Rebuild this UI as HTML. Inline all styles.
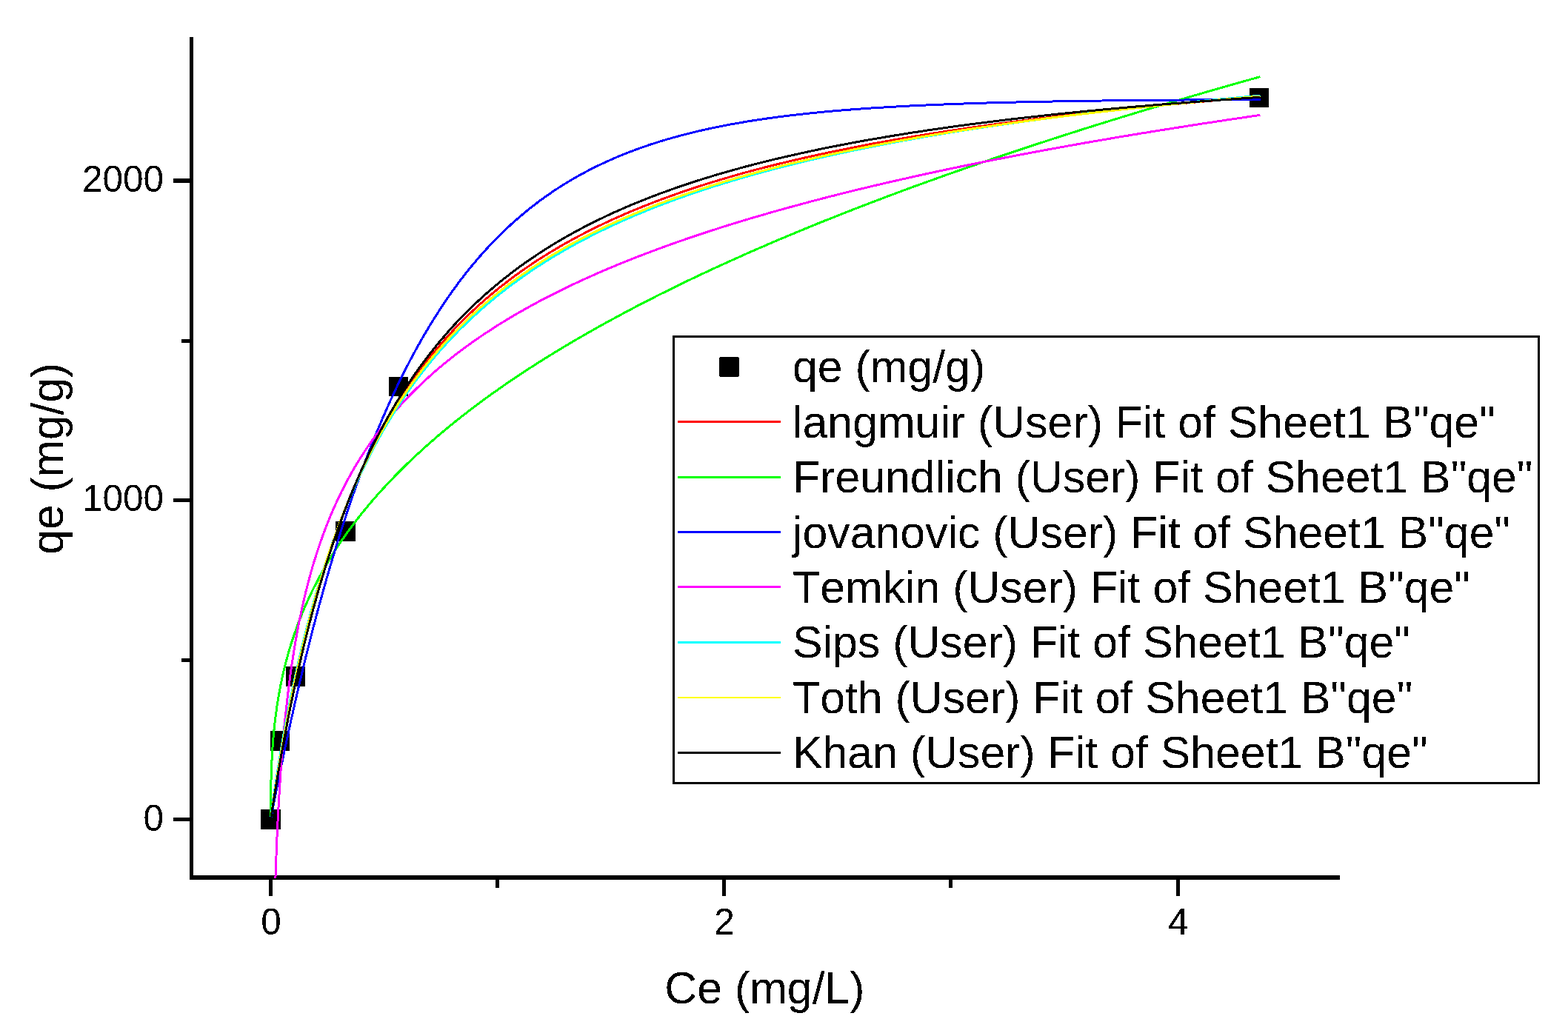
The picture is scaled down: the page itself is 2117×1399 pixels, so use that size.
<!DOCTYPE html>
<html lang="en"><head><meta charset="utf-8"><title>Adsorption isotherm fits</title>
<style>html,body{margin:0;padding:0;background:#fff;}body{width:2117px;height:1399px;overflow:hidden;}svg{display:block;}text{font-family:"Liberation Sans",Arial,sans-serif;fill:#000;font-kerning:none;font-variant-ligatures:none;}</style></head><body>
<svg width="2117" height="1399" viewBox="0 0 2117 1399">
<rect x="0" y="0" width="2117" height="1399" fill="#ffffff"/>
<defs><clipPath id="plot"><rect x="256" y="40" width="1560" height="1146"/></clipPath>
<filter id="bw" filterUnits="userSpaceOnUse" x="0" y="0" width="2117" height="1399" color-interpolation-filters="sRGB"><feComponentTransfer><feFuncA type="discrete" tableValues="0 1"/></feComponentTransfer></filter>
</defs>
<g fill="#000" shape-rendering="crispEdges">
<rect x="256" y="50" width="5" height="1138"/>
<rect x="256" y="1182" width="1553" height="6"/>
<rect x="234" y="241" width="22" height="6"/>
<rect x="245" y="458" width="11" height="5"/>
<rect x="234" y="673" width="22" height="5"/>
<rect x="245" y="889" width="11" height="5"/>
<rect x="234" y="1104" width="22" height="5"/>
<rect x="363" y="1188" width="5" height="22"/>
<rect x="669" y="1188" width="5" height="11"/>
<rect x="975" y="1188" width="5" height="22"/>
<rect x="1281" y="1188" width="5" height="11"/>
<rect x="1588" y="1188" width="5" height="22"/>
</g>
<g fill="#000" shape-rendering="crispEdges">
<rect x="352" y="1093" width="27" height="27"/>
<rect x="365" y="987" width="26" height="27"/>
<rect x="386" y="900" width="26" height="27"/>
<rect x="453" y="704" width="27" height="27"/>
<rect x="525" y="509" width="26" height="26"/>
<rect x="1687" y="119" width="26" height="26"/>
</g>
<g fill="none" stroke-width="3" stroke-linejoin="round" clip-path="url(#plot)" shape-rendering="crispEdges">
<polyline stroke="#ff0000" points="365.5,1106.5 365.9,1103.9 366.3,1101.2 366.7,1098.6 367.1,1096.0 367.5,1093.4 367.9,1090.8 368.2,1088.2 368.6,1085.7 369.0,1083.1 369.4,1080.6 369.8,1078.1 370.2,1075.6 370.6,1073.1 371.0,1070.6 371.4,1068.1 371.8,1065.6 372.2,1063.2 372.6,1060.7 373.0,1058.3 373.3,1055.9 373.7,1053.5 374.1,1051.1 374.5,1048.7 374.9,1046.3 375.3,1043.9 375.7,1041.6 376.1,1039.2 376.5,1036.9 376.9,1034.6 377.3,1032.3 377.7,1030.0 378.1,1027.7 378.5,1025.4 378.8,1023.1 379.2,1020.9 379.6,1018.6 380.0,1016.4 380.4,1014.2 380.8,1011.9 382.2,1004.0 383.6,996.2 385.0,988.5 386.5,981.0 387.9,973.5 389.3,966.2 390.7,959.0 392.1,951.9 393.5,944.9 395.0,938.0 396.4,931.2 397.8,924.5 399.2,917.9 400.6,911.4 402.0,905.0 403.4,898.7 404.9,892.4 406.3,886.3 407.7,880.2 409.1,874.2 410.5,868.3 411.9,862.5 413.3,856.8 414.8,851.1 416.2,845.5 417.6,840.0 419.0,834.6 420.4,829.2 421.8,823.9 423.2,818.7 424.7,813.5 426.1,808.4 427.5,803.4 428.9,798.4 430.3,793.5 431.7,788.7 433.2,783.9 434.6,779.2 436.0,774.5 437.4,769.9 438.8,765.3 440.2,760.8 441.6,756.4 443.1,752.0 444.5,747.6 445.9,743.3 447.3,739.1 448.7,734.9 450.1,730.8 451.5,726.7 453.0,722.6 454.4,718.6 455.8,714.6 457.2,710.7 458.6,706.8 460.0,703.0 461.4,699.2 462.9,695.5 464.3,691.8 465.7,688.1 467.1,684.5 468.5,680.9 469.9,677.3 471.3,673.8 472.8,670.3 474.2,666.9 475.6,663.5 477.0,660.1 478.4,656.8 479.8,653.5 481.3,650.2 482.7,647.0 484.1,643.8 485.5,640.6 486.9,637.5 488.3,634.4 489.7,631.3 491.2,628.2 492.6,625.2 494.0,622.2 495.4,619.3 496.8,616.3 498.2,613.4 499.6,610.6 501.1,607.7 502.5,604.9 503.9,602.1 505.3,599.3 506.7,596.6 508.1,593.9 509.5,591.2 511.0,588.5 512.4,585.9 513.8,583.3 515.2,580.7 516.6,578.1 518.0,575.6 519.5,573.0 520.9,570.5 522.3,568.1 523.7,565.6 525.1,563.2 526.5,560.8 527.9,558.4 529.4,556.0 530.8,553.7 532.2,551.3 533.6,549.0 535.0,546.7 536.4,544.4 537.8,542.2 539.3,540.0 540.7,537.7 542.1,535.6 543.5,533.4 544.9,531.2 546.3,529.1 547.7,526.9 549.2,524.8 553.6,518.3 558.1,512.0 562.5,505.8 567.0,499.7 571.4,493.8 575.9,488.1 580.3,482.5 584.8,477.0 589.2,471.6 593.7,466.4 598.1,461.3 602.6,456.3 607.0,451.4 611.4,446.6 615.9,441.9 620.3,437.3 624.8,432.8 629.2,428.4 633.7,424.1 638.1,419.9 642.6,415.8 647.0,411.7 651.5,407.8 655.9,403.9 660.4,400.1 664.8,396.3 669.3,392.6 673.7,389.0 678.2,385.5 682.6,382.1 687.1,378.6 691.5,375.3 696.0,372.0 700.4,368.8 704.9,365.6 709.3,362.5 713.8,359.5 718.2,356.5 722.7,353.5 727.1,350.6 731.6,347.8 736.0,345.0 740.5,342.2 744.9,339.5 749.4,336.9 753.8,334.2 758.3,331.6 762.7,329.1 767.2,326.6 771.6,324.1 776.1,321.7 780.5,319.3 785.0,317.0 789.4,314.7 793.9,312.4 798.3,310.2 802.8,307.9 807.2,305.8 811.7,303.6 816.1,301.5 820.6,299.4 825.0,297.4 829.5,295.3 833.9,293.3 838.4,291.4 842.8,289.4 847.3,287.5 851.7,285.6 856.2,283.8 860.6,281.9 865.1,280.1 869.5,278.3 874.0,276.6 878.4,274.8 882.8,273.1 887.3,271.4 891.7,269.7 896.2,268.1 900.6,266.5 905.1,264.8 909.5,263.3 914.0,261.7 918.4,260.1 922.9,258.6 927.3,257.1 931.8,255.6 936.2,254.1 940.7,252.7 945.1,251.2 949.6,249.8 954.0,248.4 958.5,247.0 962.9,245.6 967.4,244.3 971.8,242.9 976.3,241.6 980.7,240.3 985.2,239.0 989.6,237.7 994.1,236.4 998.5,235.2 1003.0,233.9 1007.4,232.7 1011.9,231.5 1016.3,230.3 1020.8,229.1 1025.2,227.9 1029.7,226.8 1034.1,225.6 1038.6,224.5 1043.0,223.4 1047.5,222.3 1051.9,221.2 1056.4,220.1 1060.8,219.0 1065.3,217.9 1069.7,216.9 1074.2,215.8 1078.6,214.8 1083.1,213.8 1087.5,212.8 1092.0,211.8 1096.4,210.8 1100.9,209.8 1105.3,208.8 1109.8,207.8 1114.2,206.9 1118.7,205.9 1123.1,205.0 1127.6,204.1 1132.0,203.2 1136.5,202.3 1140.9,201.4 1145.4,200.5 1149.8,199.6 1154.2,198.7 1158.7,197.8 1163.1,197.0 1167.6,196.1 1172.0,195.3 1176.5,194.4 1180.9,193.6 1185.4,192.8 1189.8,192.0 1194.3,191.2 1198.7,190.4 1203.2,189.6 1207.6,188.8 1212.1,188.0 1216.5,187.3 1221.0,186.5 1225.4,185.7 1229.9,185.0 1234.3,184.2 1238.8,183.5 1243.2,182.8 1247.7,182.0 1252.1,181.3 1256.6,180.6 1261.0,179.9 1265.5,179.2 1269.9,178.5 1274.4,177.8 1278.8,177.1 1283.3,176.5 1287.7,175.8 1292.2,175.1 1296.6,174.5 1301.1,173.8 1305.5,173.1 1310.0,172.5 1314.4,171.9 1318.9,171.2 1323.3,170.6 1327.8,170.0 1332.2,169.3 1336.7,168.7 1341.1,168.1 1345.6,167.5 1350.0,166.9 1354.5,166.3 1358.9,165.7 1363.4,165.1 1367.8,164.5 1372.3,164.0 1376.7,163.4 1381.2,162.8 1385.6,162.3 1390.1,161.7 1394.5,161.1 1399.0,160.6 1403.4,160.0 1407.9,159.5 1412.3,159.0 1416.8,158.4 1421.2,157.9 1425.7,157.4 1430.1,156.8 1434.5,156.3 1439.0,155.8 1443.4,155.3 1447.9,154.8 1452.3,154.3 1456.8,153.8 1461.2,153.3 1465.7,152.8 1470.1,152.3 1474.6,151.8 1479.0,151.3 1483.5,150.8 1487.9,150.3 1492.4,149.9 1496.8,149.4 1501.3,148.9 1505.7,148.4 1510.2,148.0 1514.6,147.5 1519.1,147.1 1523.5,146.6 1528.0,146.2 1532.4,145.7 1536.9,145.3 1541.3,144.8 1545.8,144.4 1550.2,144.0 1554.7,143.5 1559.1,143.1 1563.6,142.7 1568.0,142.2 1572.5,141.8 1576.9,141.4 1581.4,141.0 1585.8,140.6 1590.3,140.2 1594.7,139.8 1599.2,139.3 1603.6,138.9 1608.1,138.5 1612.5,138.1 1617.0,137.7 1621.4,137.4 1625.9,137.0 1630.3,136.6 1634.8,136.2 1639.2,135.8 1643.7,135.4 1648.1,135.0 1652.6,134.7 1657.0,134.3 1661.5,133.9 1665.9,133.6 1670.4,133.2 1674.8,132.8 1679.3,132.5 1683.7,132.1 1688.2,131.7 1692.6,131.4 1697.1,131.0 1701.5,130.7"/>
<polyline stroke="#00ff00" points="365.5,1106.5 365.9,1057.7 366.3,1043.4 366.7,1033.1 367.1,1024.9 367.5,1017.8 367.9,1011.6 368.2,1006.0 368.6,1000.9 369.0,996.1 369.4,991.7 369.8,987.6 370.2,983.7 370.6,980.0 371.0,976.4 371.4,973.0 371.8,969.8 372.2,966.7 372.6,963.7 373.0,960.8 373.3,958.0 373.7,955.3 374.1,952.6 374.5,950.1 374.9,947.6 375.3,945.1 375.7,942.8 376.1,940.5 376.5,938.2 376.9,936.0 377.3,933.8 377.7,931.7 378.1,929.6 378.5,927.6 378.8,925.6 379.2,923.6 379.6,921.7 380.0,919.8 380.4,918.0 380.8,916.1 382.2,909.8 383.6,903.7 385.0,898.0 386.5,892.5 387.9,887.2 389.3,882.2 390.7,877.3 392.1,872.6 393.5,868.1 395.0,863.7 396.4,859.4 397.8,855.2 399.2,851.2 400.6,847.3 402.0,843.4 403.4,839.7 404.9,836.0 406.3,832.5 407.7,829.0 409.1,825.5 410.5,822.2 411.9,818.9 413.3,815.7 414.8,812.5 416.2,809.4 417.6,806.3 419.0,803.3 420.4,800.4 421.8,797.5 423.2,794.6 424.7,791.8 426.1,789.0 427.5,786.3 428.9,783.6 430.3,780.9 431.7,778.3 433.2,775.7 434.6,773.1 436.0,770.6 437.4,768.1 438.8,765.7 440.2,763.2 441.6,760.8 443.1,758.4 444.5,756.1 445.9,753.8 447.3,751.5 448.7,749.2 450.1,747.0 451.5,744.7 453.0,742.5 454.4,740.4 455.8,738.2 457.2,736.1 458.6,734.0 460.0,731.9 461.4,729.8 462.9,727.7 464.3,725.7 465.7,723.7 467.1,721.7 468.5,719.7 469.9,717.7 471.3,715.8 472.8,713.8 474.2,711.9 475.6,710.0 477.0,708.1 478.4,706.3 479.8,704.4 481.3,702.6 482.7,700.7 484.1,698.9 485.5,697.1 486.9,695.3 488.3,693.6 489.7,691.8 491.2,690.0 492.6,688.3 494.0,686.6 495.4,684.9 496.8,683.2 498.2,681.5 499.6,679.8 501.1,678.1 502.5,676.5 503.9,674.8 505.3,673.2 506.7,671.6 508.1,670.0 509.5,668.3 511.0,666.8 512.4,665.2 513.8,663.6 515.2,662.0 516.6,660.5 518.0,658.9 519.5,657.4 520.9,655.9 522.3,654.3 523.7,652.8 525.1,651.3 526.5,649.8 527.9,648.3 529.4,646.9 530.8,645.4 532.2,643.9 533.6,642.5 535.0,641.0 536.4,639.6 537.8,638.1 539.3,636.7 540.7,635.3 542.1,633.9 543.5,632.5 544.9,631.1 546.3,629.7 547.7,628.3 549.2,626.9 553.6,622.6 558.1,618.4 562.5,614.3 567.0,610.2 571.4,606.1 575.9,602.1 580.3,598.2 584.8,594.3 589.2,590.4 593.7,586.6 598.1,582.9 602.6,579.2 607.0,575.5 611.4,571.9 615.9,568.3 620.3,564.8 624.8,561.3 629.2,557.9 633.7,554.4 638.1,551.0 642.6,547.7 647.0,544.4 651.5,541.1 655.9,537.8 660.4,534.6 664.8,531.4 669.3,528.3 673.7,525.1 678.2,522.0 682.6,518.9 687.1,515.9 691.5,512.9 696.0,509.9 700.4,506.9 704.9,503.9 709.3,501.0 713.8,498.1 718.2,495.2 722.7,492.4 727.1,489.5 731.6,486.7 736.0,483.9 740.5,481.2 744.9,478.4 749.4,475.7 753.8,473.0 758.3,470.3 762.7,467.6 767.2,465.0 771.6,462.3 776.1,459.7 780.5,457.1 785.0,454.6 789.4,452.0 793.9,449.4 798.3,446.9 802.8,444.4 807.2,441.9 811.7,439.4 816.1,437.0 820.6,434.5 825.0,432.1 829.5,429.7 833.9,427.2 838.4,424.9 842.8,422.5 847.3,420.1 851.7,417.8 856.2,415.4 860.6,413.1 865.1,410.8 869.5,408.5 874.0,406.2 878.4,403.9 882.8,401.7 887.3,399.4 891.7,397.2 896.2,395.0 900.6,392.8 905.1,390.6 909.5,388.4 914.0,386.2 918.4,384.0 922.9,381.9 927.3,379.7 931.8,377.6 936.2,375.5 940.7,373.4 945.1,371.2 949.6,369.2 954.0,367.1 958.5,365.0 962.9,362.9 967.4,360.9 971.8,358.8 976.3,356.8 980.7,354.8 985.2,352.8 989.6,350.8 994.1,348.8 998.5,346.8 1003.0,344.8 1007.4,342.8 1011.9,340.8 1016.3,338.9 1020.8,336.9 1025.2,335.0 1029.7,333.1 1034.1,331.2 1038.6,329.2 1043.0,327.3 1047.5,325.4 1051.9,323.5 1056.4,321.7 1060.8,319.8 1065.3,317.9 1069.7,316.1 1074.2,314.2 1078.6,312.4 1083.1,310.5 1087.5,308.7 1092.0,306.9 1096.4,305.0 1100.9,303.2 1105.3,301.4 1109.8,299.6 1114.2,297.8 1118.7,296.1 1123.1,294.3 1127.6,292.5 1132.0,290.8 1136.5,289.0 1140.9,287.2 1145.4,285.5 1149.8,283.8 1154.2,282.0 1158.7,280.3 1163.1,278.6 1167.6,276.9 1172.0,275.2 1176.5,273.5 1180.9,271.8 1185.4,270.1 1189.8,268.4 1194.3,266.7 1198.7,265.0 1203.2,263.4 1207.6,261.7 1212.1,260.0 1216.5,258.4 1221.0,256.7 1225.4,255.1 1229.9,253.5 1234.3,251.8 1238.8,250.2 1243.2,248.6 1247.7,247.0 1252.1,245.4 1256.6,243.8 1261.0,242.2 1265.5,240.6 1269.9,239.0 1274.4,237.4 1278.8,235.8 1283.3,234.3 1287.7,232.7 1292.2,231.1 1296.6,229.6 1301.1,228.0 1305.5,226.4 1310.0,224.9 1314.4,223.4 1318.9,221.8 1323.3,220.3 1327.8,218.8 1332.2,217.2 1336.7,215.7 1341.1,214.2 1345.6,212.7 1350.0,211.2 1354.5,209.7 1358.9,208.2 1363.4,206.7 1367.8,205.2 1372.3,203.7 1376.7,202.2 1381.2,200.8 1385.6,199.3 1390.1,197.8 1394.5,196.4 1399.0,194.9 1403.4,193.4 1407.9,192.0 1412.3,190.5 1416.8,189.1 1421.2,187.6 1425.7,186.2 1430.1,184.8 1434.5,183.3 1439.0,181.9 1443.4,180.5 1447.9,179.1 1452.3,177.7 1456.8,176.2 1461.2,174.8 1465.7,173.4 1470.1,172.0 1474.6,170.6 1479.0,169.2 1483.5,167.8 1487.9,166.5 1492.4,165.1 1496.8,163.7 1501.3,162.3 1505.7,160.9 1510.2,159.6 1514.6,158.2 1519.1,156.8 1523.5,155.5 1528.0,154.1 1532.4,152.8 1536.9,151.4 1541.3,150.1 1545.8,148.7 1550.2,147.4 1554.7,146.1 1559.1,144.7 1563.6,143.4 1568.0,142.1 1572.5,140.7 1576.9,139.4 1581.4,138.1 1585.8,136.8 1590.3,135.5 1594.7,134.2 1599.2,132.9 1603.6,131.5 1608.1,130.2 1612.5,128.9 1617.0,127.7 1621.4,126.4 1625.9,125.1 1630.3,123.8 1634.8,122.5 1639.2,121.2 1643.7,119.9 1648.1,118.7 1652.6,117.4 1657.0,116.1 1661.5,114.9 1665.9,113.6 1670.4,112.3 1674.8,111.1 1679.3,109.8 1683.7,108.6 1688.2,107.3 1692.6,106.1 1697.1,104.8 1701.5,103.6"/>
<polyline stroke="#0000ff" points="365.5,1106.5 365.9,1104.4 366.3,1102.4 366.7,1100.4 367.1,1098.3 367.5,1096.3 367.9,1094.2 368.2,1092.2 368.6,1090.2 369.0,1088.2 369.4,1086.2 369.8,1084.1 370.2,1082.1 370.6,1080.1 371.0,1078.1 371.4,1076.1 371.8,1074.1 372.2,1072.2 372.6,1070.2 373.0,1068.2 373.3,1066.2 373.7,1064.3 374.1,1062.3 374.5,1060.3 374.9,1058.4 375.3,1056.4 375.7,1054.5 376.1,1052.5 376.5,1050.6 376.9,1048.7 377.3,1046.7 377.7,1044.8 378.1,1042.9 378.5,1041.0 378.8,1039.0 379.2,1037.1 379.6,1035.2 380.0,1033.3 380.4,1031.4 380.8,1029.5 382.2,1022.7 383.6,1016.0 385.0,1009.3 386.5,1002.6 387.9,996.0 389.3,989.5 390.7,983.0 392.1,976.5 393.5,970.1 395.0,963.8 396.4,957.5 397.8,951.2 399.2,945.0 400.6,938.9 402.0,932.8 403.4,926.7 404.9,920.7 406.3,914.7 407.7,908.8 409.1,902.9 410.5,897.0 411.9,891.3 413.3,885.5 414.8,879.8 416.2,874.1 417.6,868.5 419.0,862.9 420.4,857.4 421.8,851.9 423.2,846.4 424.7,841.0 426.1,835.7 427.5,830.3 428.9,825.1 430.3,819.8 431.7,814.6 433.2,809.4 434.6,804.3 436.0,799.2 437.4,794.2 438.8,789.1 440.2,784.2 441.6,779.2 443.1,774.3 444.5,769.5 445.9,764.6 447.3,759.8 448.7,755.1 450.1,750.4 451.5,745.7 453.0,741.0 454.4,736.4 455.8,731.9 457.2,727.3 458.6,722.8 460.0,718.3 461.4,713.9 462.9,709.5 464.3,705.1 465.7,700.8 467.1,696.5 468.5,692.2 469.9,688.0 471.3,683.8 472.8,679.6 474.2,675.4 475.6,671.3 477.0,667.3 478.4,663.2 479.8,659.2 481.3,655.2 482.7,651.2 484.1,647.3 485.5,643.4 486.9,639.5 488.3,635.7 489.7,631.9 491.2,628.1 492.6,624.4 494.0,620.6 495.4,616.9 496.8,613.3 498.2,609.6 499.6,606.0 501.1,602.4 502.5,598.9 503.9,595.3 505.3,591.8 506.7,588.4 508.1,584.9 509.5,581.5 511.0,578.1 512.4,574.7 513.8,571.4 515.2,568.0 516.6,564.7 518.0,561.5 519.5,558.2 520.9,555.0 522.3,551.8 523.7,548.6 525.1,545.5 526.5,542.3 527.9,539.2 529.4,536.2 530.8,533.1 532.2,530.1 533.6,527.1 535.0,524.1 536.4,521.1 537.8,518.2 539.3,515.3 540.7,512.4 542.1,509.5 543.5,506.6 544.9,503.8 546.3,501.0 547.7,498.2 549.2,495.4 553.6,486.9 558.1,478.5 562.5,470.3 567.0,462.4 571.4,454.6 575.9,447.0 580.3,439.6 584.8,432.3 589.2,425.3 593.7,418.4 598.1,411.6 602.6,405.0 607.0,398.6 611.4,392.3 615.9,386.2 620.3,380.2 624.8,374.4 629.2,368.7 633.7,363.1 638.1,357.7 642.6,352.4 647.0,347.2 651.5,342.2 655.9,337.2 660.4,332.4 664.8,327.7 669.3,323.1 673.7,318.6 678.2,314.2 682.6,310.0 687.1,305.8 691.5,301.7 696.0,297.7 700.4,293.9 704.9,290.1 709.3,286.4 713.8,282.7 718.2,279.2 722.7,275.8 727.1,272.4 731.6,269.1 736.0,265.9 740.5,262.8 744.9,259.7 749.4,256.7 753.8,253.8 758.3,251.0 762.7,248.2 767.2,245.5 771.6,242.8 776.1,240.3 780.5,237.7 785.0,235.3 789.4,232.9 793.9,230.5 798.3,228.2 802.8,226.0 807.2,223.8 811.7,221.7 816.1,219.6 820.6,217.6 825.0,215.6 829.5,213.6 833.9,211.7 838.4,209.9 842.8,208.1 847.3,206.3 851.7,204.6 856.2,202.9 860.6,201.3 865.1,199.7 869.5,198.1 874.0,196.6 878.4,195.1 882.8,193.7 887.3,192.2 891.7,190.8 896.2,189.5 900.6,188.2 905.1,186.9 909.5,185.6 914.0,184.4 918.4,183.2 922.9,182.0 927.3,180.9 931.8,179.8 936.2,178.7 940.7,177.6 945.1,176.6 949.6,175.5 954.0,174.6 958.5,173.6 962.9,172.6 967.4,171.7 971.8,170.8 976.3,169.9 980.7,169.1 985.2,168.2 989.6,167.4 994.1,166.6 998.5,165.9 1003.0,165.1 1007.4,164.3 1011.9,163.6 1016.3,162.9 1020.8,162.2 1025.2,161.5 1029.7,160.9 1034.1,160.2 1038.6,159.6 1043.0,159.0 1047.5,158.4 1051.9,157.8 1056.4,157.2 1060.8,156.7 1065.3,156.1 1069.7,155.6 1074.2,155.1 1078.6,154.6 1083.1,154.1 1087.5,153.6 1092.0,153.1 1096.4,152.7 1100.9,152.2 1105.3,151.8 1109.8,151.4 1114.2,150.9 1118.7,150.5 1123.1,150.1 1127.6,149.7 1132.0,149.4 1136.5,149.0 1140.9,148.6 1145.4,148.3 1149.8,147.9 1154.2,147.6 1158.7,147.3 1163.1,146.9 1167.6,146.6 1172.0,146.3 1176.5,146.0 1180.9,145.7 1185.4,145.5 1189.8,145.2 1194.3,144.9 1198.7,144.6 1203.2,144.4 1207.6,144.1 1212.1,143.9 1216.5,143.6 1221.0,143.4 1225.4,143.2 1229.9,142.9 1234.3,142.7 1238.8,142.5 1243.2,142.3 1247.7,142.1 1252.1,141.9 1256.6,141.7 1261.0,141.5 1265.5,141.3 1269.9,141.2 1274.4,141.0 1278.8,140.8 1283.3,140.6 1287.7,140.5 1292.2,140.3 1296.6,140.2 1301.1,140.0 1305.5,139.9 1310.0,139.7 1314.4,139.6 1318.9,139.4 1323.3,139.3 1327.8,139.2 1332.2,139.0 1336.7,138.9 1341.1,138.8 1345.6,138.7 1350.0,138.5 1354.5,138.4 1358.9,138.3 1363.4,138.2 1367.8,138.1 1372.3,138.0 1376.7,137.9 1381.2,137.8 1385.6,137.7 1390.1,137.6 1394.5,137.5 1399.0,137.4 1403.4,137.3 1407.9,137.2 1412.3,137.2 1416.8,137.1 1421.2,137.0 1425.7,136.9 1430.1,136.8 1434.5,136.8 1439.0,136.7 1443.4,136.6 1447.9,136.6 1452.3,136.5 1456.8,136.4 1461.2,136.4 1465.7,136.3 1470.1,136.2 1474.6,136.2 1479.0,136.1 1483.5,136.1 1487.9,136.0 1492.4,135.9 1496.8,135.9 1501.3,135.8 1505.7,135.8 1510.2,135.7 1514.6,135.7 1519.1,135.6 1523.5,135.6 1528.0,135.6 1532.4,135.5 1536.9,135.5 1541.3,135.4 1545.8,135.4 1550.2,135.3 1554.7,135.3 1559.1,135.3 1563.6,135.2 1568.0,135.2 1572.5,135.2 1576.9,135.1 1581.4,135.1 1585.8,135.1 1590.3,135.0 1594.7,135.0 1599.2,135.0 1603.6,134.9 1608.1,134.9 1612.5,134.9 1617.0,134.8 1621.4,134.8 1625.9,134.8 1630.3,134.8 1634.8,134.7 1639.2,134.7 1643.7,134.7 1648.1,134.7 1652.6,134.6 1657.0,134.6 1661.5,134.6 1665.9,134.6 1670.4,134.6 1674.8,134.5 1679.3,134.5 1683.7,134.5 1688.2,134.5 1692.6,134.5 1697.1,134.4 1701.5,134.4"/>
<polyline stroke="#ff00ff" points="370.6,1230.0 369.6,1269.3 368.7,1318.8 367.8,1385.6 366.8,1488.5 365.9,1723.8 367.9,1378.3 368.2,1348.6 368.6,1322.8 369.0,1300.1 369.4,1279.8 369.8,1261.4 370.2,1244.6 370.6,1229.2 371.0,1214.9 371.4,1201.6 371.8,1189.1 372.2,1177.4 372.6,1166.4 373.0,1156.0 373.3,1146.1 373.7,1136.7 374.1,1127.7 374.5,1119.1 374.9,1110.9 375.3,1103.1 375.7,1095.5 376.1,1088.2 376.5,1081.2 376.9,1074.4 377.3,1067.9 377.7,1061.6 378.1,1055.5 378.5,1049.5 378.8,1043.8 379.2,1038.2 379.6,1032.7 380.0,1027.5 380.4,1022.3 380.8,1017.3 382.2,1000.3 383.6,984.6 385.0,970.1 386.5,956.6 387.9,944.0 389.3,932.2 390.7,921.1 392.1,910.5 393.5,900.6 395.0,891.1 396.4,882.0 397.8,873.4 399.2,865.1 400.6,857.2 402.0,849.6 403.4,842.2 404.9,835.2 406.3,828.4 407.7,821.8 409.1,815.4 410.5,809.3 411.9,803.3 413.3,797.5 414.8,791.9 416.2,786.4 417.6,781.1 419.0,775.9 420.4,770.9 421.8,766.0 423.2,761.2 424.7,756.5 426.1,752.0 427.5,747.5 428.9,743.2 430.3,738.9 431.7,734.8 433.2,730.7 434.6,726.7 436.0,722.8 437.4,719.0 438.8,715.2 440.2,711.5 441.6,707.9 443.1,704.3 444.5,700.9 445.9,697.4 447.3,694.1 448.7,690.8 450.1,687.5 451.5,684.3 453.0,681.2 454.4,678.1 455.8,675.0 457.2,672.0 458.6,669.1 460.0,666.2 461.4,663.3 462.9,660.5 464.3,657.7 465.7,655.0 467.1,652.3 468.5,649.6 469.9,647.0 471.3,644.4 472.8,641.8 474.2,639.3 475.6,636.8 477.0,634.3 478.4,631.9 479.8,629.5 481.3,627.1 482.7,624.8 484.1,622.5 485.5,620.2 486.9,617.9 488.3,615.7 489.7,613.5 491.2,611.3 492.6,609.1 494.0,607.0 495.4,604.9 496.8,602.8 498.2,600.7 499.6,598.7 501.1,596.6 502.5,594.6 503.9,592.7 505.3,590.7 506.7,588.8 508.1,586.8 509.5,584.9 511.0,583.1 512.4,581.2 513.8,579.3 515.2,577.5 516.6,575.7 518.0,573.9 519.5,572.1 520.9,570.3 522.3,568.6 523.7,566.9 525.1,565.2 526.5,563.4 527.9,561.8 529.4,560.1 530.8,558.4 532.2,556.8 533.6,555.2 535.0,553.5 536.4,551.9 537.8,550.3 539.3,548.8 540.7,547.2 542.1,545.7 543.5,544.1 544.9,542.6 546.3,541.1 547.7,539.6 549.2,538.1 553.6,533.5 558.1,529.0 562.5,524.6 567.0,520.2 571.4,516.0 575.9,511.9 580.3,507.9 584.8,503.9 589.2,500.0 593.7,496.2 598.1,492.5 602.6,488.9 607.0,485.3 611.4,481.8 615.9,478.3 620.3,474.9 624.8,471.6 629.2,468.3 633.7,465.1 638.1,461.9 642.6,458.8 647.0,455.7 651.5,452.7 655.9,449.7 660.4,446.8 664.8,443.9 669.3,441.0 673.7,438.2 678.2,435.5 682.6,432.7 687.1,430.1 691.5,427.4 696.0,424.8 700.4,422.2 704.9,419.7 709.3,417.2 713.8,414.7 718.2,412.2 722.7,409.8 727.1,407.4 731.6,405.1 736.0,402.7 740.5,400.4 744.9,398.2 749.4,395.9 753.8,393.7 758.3,391.5 762.7,389.3 767.2,387.2 771.6,385.0 776.1,382.9 780.5,380.9 785.0,378.8 789.4,376.8 793.9,374.8 798.3,372.8 802.8,370.8 807.2,368.8 811.7,366.9 816.1,365.0 820.6,363.1 825.0,361.2 829.5,359.4 833.9,357.5 838.4,355.7 842.8,353.9 847.3,352.1 851.7,350.3 856.2,348.6 860.6,346.8 865.1,345.1 869.5,343.4 874.0,341.7 878.4,340.0 882.8,338.4 887.3,336.7 891.7,335.1 896.2,333.4 900.6,331.8 905.1,330.2 909.5,328.7 914.0,327.1 918.4,325.5 922.9,324.0 927.3,322.4 931.8,320.9 936.2,319.4 940.7,317.9 945.1,316.4 949.6,315.0 954.0,313.5 958.5,312.0 962.9,310.6 967.4,309.2 971.8,307.7 976.3,306.3 980.7,304.9 985.2,303.5 989.6,302.2 994.1,300.8 998.5,299.4 1003.0,298.1 1007.4,296.7 1011.9,295.4 1016.3,294.1 1020.8,292.8 1025.2,291.5 1029.7,290.2 1034.1,288.9 1038.6,287.6 1043.0,286.3 1047.5,285.1 1051.9,283.8 1056.4,282.6 1060.8,281.3 1065.3,280.1 1069.7,278.9 1074.2,277.7 1078.6,276.5 1083.1,275.3 1087.5,274.1 1092.0,272.9 1096.4,271.7 1100.9,270.5 1105.3,269.4 1109.8,268.2 1114.2,267.1 1118.7,265.9 1123.1,264.8 1127.6,263.7 1132.0,262.5 1136.5,261.4 1140.9,260.3 1145.4,259.2 1149.8,258.1 1154.2,257.0 1158.7,255.9 1163.1,254.9 1167.6,253.8 1172.0,252.7 1176.5,251.7 1180.9,250.6 1185.4,249.6 1189.8,248.5 1194.3,247.5 1198.7,246.4 1203.2,245.4 1207.6,244.4 1212.1,243.4 1216.5,242.4 1221.0,241.4 1225.4,240.4 1229.9,239.4 1234.3,238.4 1238.8,237.4 1243.2,236.4 1247.7,235.4 1252.1,234.5 1256.6,233.5 1261.0,232.5 1265.5,231.6 1269.9,230.6 1274.4,229.7 1278.8,228.7 1283.3,227.8 1287.7,226.9 1292.2,225.9 1296.6,225.0 1301.1,224.1 1305.5,223.2 1310.0,222.3 1314.4,221.4 1318.9,220.5 1323.3,219.6 1327.8,218.7 1332.2,217.8 1336.7,216.9 1341.1,216.0 1345.6,215.1 1350.0,214.3 1354.5,213.4 1358.9,212.5 1363.4,211.7 1367.8,210.8 1372.3,210.0 1376.7,209.1 1381.2,208.3 1385.6,207.4 1390.1,206.6 1394.5,205.7 1399.0,204.9 1403.4,204.1 1407.9,203.3 1412.3,202.4 1416.8,201.6 1421.2,200.8 1425.7,200.0 1430.1,199.2 1434.5,198.4 1439.0,197.6 1443.4,196.8 1447.9,196.0 1452.3,195.2 1456.8,194.4 1461.2,193.6 1465.7,192.8 1470.1,192.1 1474.6,191.3 1479.0,190.5 1483.5,189.7 1487.9,189.0 1492.4,188.2 1496.8,187.5 1501.3,186.7 1505.7,185.9 1510.2,185.2 1514.6,184.4 1519.1,183.7 1523.5,183.0 1528.0,182.2 1532.4,181.5 1536.9,180.8 1541.3,180.0 1545.8,179.3 1550.2,178.6 1554.7,177.8 1559.1,177.1 1563.6,176.4 1568.0,175.7 1572.5,175.0 1576.9,174.3 1581.4,173.6 1585.8,172.9 1590.3,172.2 1594.7,171.5 1599.2,170.8 1603.6,170.1 1608.1,169.4 1612.5,168.7 1617.0,168.0 1621.4,167.3 1625.9,166.6 1630.3,166.0 1634.8,165.3 1639.2,164.6 1643.7,163.9 1648.1,163.3 1652.6,162.6 1657.0,161.9 1661.5,161.3 1665.9,160.6 1670.4,159.9 1674.8,159.3 1679.3,158.6 1683.7,158.0 1688.2,157.3 1692.6,156.7 1697.1,156.0 1701.5,155.4"/>
<polyline stroke="#00ffff" points="365.5,1106.5 365.9,1103.0 366.3,1099.8 366.7,1096.7 367.1,1093.6 367.5,1090.7 367.9,1087.7 368.2,1084.8 368.6,1082.0 369.0,1079.1 369.4,1076.4 369.8,1073.6 370.2,1070.8 370.6,1068.1 371.0,1065.4 371.4,1062.8 371.8,1060.1 372.2,1057.5 372.6,1054.9 373.0,1052.3 373.3,1049.8 373.7,1047.2 374.1,1044.7 374.5,1042.2 374.9,1039.7 375.3,1037.2 375.7,1034.8 376.1,1032.4 376.5,1029.9 376.9,1027.5 377.3,1025.1 377.7,1022.8 378.1,1020.4 378.5,1018.1 378.8,1015.7 379.2,1013.4 379.6,1011.1 380.0,1008.8 380.4,1006.5 380.8,1004.3 382.2,996.2 383.6,988.3 385.0,980.6 386.5,973.0 387.9,965.6 389.3,958.2 390.7,951.1 392.1,944.0 393.5,937.1 395.0,930.3 396.4,923.6 397.8,917.0 399.2,910.5 400.6,904.1 402.0,897.8 403.4,891.6 404.9,885.6 406.3,879.6 407.7,873.7 409.1,867.8 410.5,862.1 411.9,856.5 413.3,850.9 414.8,845.4 416.2,840.0 417.6,834.7 419.0,829.4 420.4,824.2 421.8,819.1 423.2,814.1 424.7,809.1 426.1,804.2 427.5,799.3 428.9,794.5 430.3,789.8 431.7,785.2 433.2,780.6 434.6,776.0 436.0,771.5 437.4,767.1 438.8,762.7 440.2,758.4 441.6,754.1 443.1,749.9 444.5,745.7 445.9,741.6 447.3,737.5 448.7,733.5 450.1,729.5 451.5,725.6 453.0,721.7 454.4,717.8 455.8,714.0 457.2,710.3 458.6,706.5 460.0,702.9 461.4,699.2 462.9,695.6 464.3,692.1 465.7,688.5 467.1,685.1 468.5,681.6 469.9,678.2 471.3,674.8 472.8,671.5 474.2,668.2 475.6,664.9 477.0,661.7 478.4,658.5 479.8,655.3 481.3,652.2 482.7,649.1 484.1,646.0 485.5,642.9 486.9,639.9 488.3,636.9 489.7,634.0 491.2,631.0 492.6,628.1 494.0,625.3 495.4,622.4 496.8,619.6 498.2,616.8 499.6,614.0 501.1,611.3 502.5,608.6 503.9,605.9 505.3,603.2 506.7,600.6 508.1,598.0 509.5,595.4 511.0,592.8 512.4,590.3 513.8,587.7 515.2,585.2 516.6,582.7 518.0,580.3 519.5,577.9 520.9,575.4 522.3,573.0 523.7,570.7 525.1,568.3 526.5,566.0 527.9,563.7 529.4,561.4 530.8,559.1 532.2,556.8 533.6,554.6 535.0,552.4 536.4,550.2 537.8,548.0 539.3,545.8 540.7,543.7 542.1,541.5 543.5,539.4 544.9,537.3 546.3,535.3 547.7,533.2 549.2,531.2 553.6,524.8 558.1,518.6 562.5,512.6 567.0,506.7 571.4,501.0 575.9,495.4 580.3,489.9 584.8,484.5 589.2,479.2 593.7,474.1 598.1,469.1 602.6,464.2 607.0,459.4 611.4,454.7 615.9,450.1 620.3,445.5 624.8,441.1 629.2,436.8 633.7,432.5 638.1,428.4 642.6,424.3 647.0,420.3 651.5,416.3 655.9,412.5 660.4,408.7 664.8,405.0 669.3,401.3 673.7,397.8 678.2,394.2 682.6,390.8 687.1,387.4 691.5,384.1 696.0,380.8 700.4,377.6 704.9,374.4 709.3,371.3 713.8,368.2 718.2,365.2 722.7,362.2 727.1,359.3 731.6,356.5 736.0,353.6 740.5,350.9 744.9,348.1 749.4,345.4 753.8,342.8 758.3,340.2 762.7,337.6 767.2,335.1 771.6,332.6 776.1,330.1 780.5,327.7 785.0,325.3 789.4,323.0 793.9,320.7 798.3,318.4 802.8,316.1 807.2,313.9 811.7,311.7 816.1,309.6 820.6,307.5 825.0,305.4 829.5,303.3 833.9,301.3 838.4,299.2 842.8,297.3 847.3,295.3 851.7,293.4 856.2,291.4 860.6,289.6 865.1,287.7 869.5,285.9 874.0,284.0 878.4,282.3 882.8,280.5 887.3,278.7 891.7,277.0 896.2,275.3 900.6,273.6 905.1,272.0 909.5,270.3 914.0,268.7 918.4,267.1 922.9,265.5 927.3,263.9 931.8,262.4 936.2,260.9 940.7,259.3 945.1,257.8 949.6,256.4 954.0,254.9 958.5,253.5 962.9,252.0 967.4,250.6 971.8,249.2 976.3,247.8 980.7,246.5 985.2,245.1 989.6,243.8 994.1,242.5 998.5,241.1 1003.0,239.9 1007.4,238.6 1011.9,237.3 1016.3,236.0 1020.8,234.8 1025.2,233.6 1029.7,232.4 1034.1,231.2 1038.6,230.0 1043.0,228.8 1047.5,227.6 1051.9,226.5 1056.4,225.3 1060.8,224.2 1065.3,223.1 1069.7,221.9 1074.2,220.8 1078.6,219.8 1083.1,218.7 1087.5,217.6 1092.0,216.5 1096.4,215.5 1100.9,214.5 1105.3,213.4 1109.8,212.4 1114.2,211.4 1118.7,210.4 1123.1,209.4 1127.6,208.4 1132.0,207.5 1136.5,206.5 1140.9,205.5 1145.4,204.6 1149.8,203.7 1154.2,202.7 1158.7,201.8 1163.1,200.9 1167.6,200.0 1172.0,199.1 1176.5,198.2 1180.9,197.3 1185.4,196.4 1189.8,195.6 1194.3,194.7 1198.7,193.9 1203.2,193.0 1207.6,192.2 1212.1,191.3 1216.5,190.5 1221.0,189.7 1225.4,188.9 1229.9,188.1 1234.3,187.3 1238.8,186.5 1243.2,185.7 1247.7,184.9 1252.1,184.2 1256.6,183.4 1261.0,182.7 1265.5,181.9 1269.9,181.2 1274.4,180.4 1278.8,179.7 1283.3,179.0 1287.7,178.2 1292.2,177.5 1296.6,176.8 1301.1,176.1 1305.5,175.4 1310.0,174.7 1314.4,174.0 1318.9,173.3 1323.3,172.6 1327.8,172.0 1332.2,171.3 1336.7,170.6 1341.1,170.0 1345.6,169.3 1350.0,168.7 1354.5,168.0 1358.9,167.4 1363.4,166.7 1367.8,166.1 1372.3,165.5 1376.7,164.9 1381.2,164.3 1385.6,163.6 1390.1,163.0 1394.5,162.4 1399.0,161.8 1403.4,161.2 1407.9,160.6 1412.3,160.1 1416.8,159.5 1421.2,158.9 1425.7,158.3 1430.1,157.7 1434.5,157.2 1439.0,156.6 1443.4,156.1 1447.9,155.5 1452.3,155.0 1456.8,154.4 1461.2,153.9 1465.7,153.3 1470.1,152.8 1474.6,152.2 1479.0,151.7 1483.5,151.2 1487.9,150.7 1492.4,150.2 1496.8,149.6 1501.3,149.1 1505.7,148.6 1510.2,148.1 1514.6,147.6 1519.1,147.1 1523.5,146.6 1528.0,146.1 1532.4,145.6 1536.9,145.1 1541.3,144.7 1545.8,144.2 1550.2,143.7 1554.7,143.2 1559.1,142.8 1563.6,142.3 1568.0,141.8 1572.5,141.4 1576.9,140.9 1581.4,140.4 1585.8,140.0 1590.3,139.5 1594.7,139.1 1599.2,138.6 1603.6,138.2 1608.1,137.8 1612.5,137.3 1617.0,136.9 1621.4,136.5 1625.9,136.0 1630.3,135.6 1634.8,135.2 1639.2,134.8 1643.7,134.3 1648.1,133.9 1652.6,133.5 1657.0,133.1 1661.5,132.7 1665.9,132.3 1670.4,131.9 1674.8,131.5 1679.3,131.1 1683.7,130.7 1688.2,130.3 1692.6,129.9 1697.1,129.5 1701.5,129.1"/>
<polyline stroke="#ffff00" points="365.5,1106.5 365.9,1103.7 366.3,1101.0 366.7,1098.2 367.1,1095.5 367.5,1092.8 367.9,1090.1 368.2,1087.4 368.6,1084.7 369.0,1082.1 369.4,1079.4 369.8,1076.8 370.2,1074.2 370.6,1071.6 371.0,1069.1 371.4,1066.5 371.8,1064.0 372.2,1061.4 372.6,1058.9 373.0,1056.4 373.3,1053.9 373.7,1051.4 374.1,1049.0 374.5,1046.5 374.9,1044.1 375.3,1041.7 375.7,1039.2 376.1,1036.8 376.5,1034.5 376.9,1032.1 377.3,1029.7 377.7,1027.4 378.1,1025.0 378.5,1022.7 378.8,1020.4 379.2,1018.1 379.6,1015.8 380.0,1013.5 380.4,1011.3 380.8,1009.0 382.2,1001.0 383.6,993.0 385.0,985.3 386.5,977.7 387.9,970.1 389.3,962.8 390.7,955.5 392.1,948.4 393.5,941.3 395.0,934.4 396.4,927.6 397.8,920.9 399.2,914.4 400.6,907.9 402.0,901.5 403.4,895.2 404.9,889.0 406.3,882.9 407.7,876.9 409.1,870.9 410.5,865.1 411.9,859.3 413.3,853.6 414.8,848.0 416.2,842.5 417.6,837.1 419.0,831.7 420.4,826.4 421.8,821.2 423.2,816.0 424.7,810.9 426.1,805.9 427.5,800.9 428.9,796.1 430.3,791.2 431.7,786.5 433.2,781.8 434.6,777.1 436.0,772.5 437.4,768.0 438.8,763.5 440.2,759.1 441.6,754.7 443.1,750.4 444.5,746.1 445.9,741.9 447.3,737.8 448.7,733.7 450.1,729.6 451.5,725.6 453.0,721.6 454.4,717.7 455.8,713.8 457.2,710.0 458.6,706.2 460.0,702.4 461.4,698.7 462.9,695.0 464.3,691.4 465.7,687.8 467.1,684.3 468.5,680.8 469.9,677.3 471.3,673.8 472.8,670.4 474.2,667.1 475.6,663.8 477.0,660.5 478.4,657.2 479.8,654.0 481.3,650.8 482.7,647.6 484.1,644.5 485.5,641.4 486.9,638.3 488.3,635.3 489.7,632.3 491.2,629.3 492.6,626.3 494.0,623.4 495.4,620.5 496.8,617.7 498.2,614.8 499.6,612.0 501.1,609.2 502.5,606.5 503.9,603.8 505.3,601.1 506.7,598.4 508.1,595.7 509.5,593.1 511.0,590.5 512.4,587.9 513.8,585.3 515.2,582.8 516.6,580.3 518.0,577.8 519.5,575.3 520.9,572.9 522.3,570.5 523.7,568.1 525.1,565.7 526.5,563.3 527.9,561.0 529.4,558.7 530.8,556.3 532.2,554.1 533.6,551.8 535.0,549.6 536.4,547.3 537.8,545.1 539.3,542.9 540.7,540.8 542.1,538.6 543.5,536.5 544.9,534.4 546.3,532.3 547.7,530.2 549.2,528.1 553.6,521.7 558.1,515.5 562.5,509.4 567.0,503.5 571.4,497.7 575.9,492.0 580.3,486.5 584.8,481.1 589.2,475.9 593.7,470.7 598.1,465.7 602.6,460.7 607.0,455.9 611.4,451.2 615.9,446.6 620.3,442.0 624.8,437.6 629.2,433.3 633.7,429.0 638.1,424.8 642.6,420.7 647.0,416.7 651.5,412.8 655.9,409.0 660.4,405.2 664.8,401.5 669.3,397.8 673.7,394.3 678.2,390.8 682.6,387.3 687.1,383.9 691.5,380.6 696.0,377.3 700.4,374.1 704.9,371.0 709.3,367.9 713.8,364.8 718.2,361.8 722.7,358.9 727.1,356.0 731.6,353.2 736.0,350.4 740.5,347.6 744.9,344.9 749.4,342.2 753.8,339.6 758.3,337.0 762.7,334.5 767.2,331.9 771.6,329.5 776.1,327.0 780.5,324.7 785.0,322.3 789.4,320.0 793.9,317.7 798.3,315.4 802.8,313.2 807.2,311.0 811.7,308.8 816.1,306.7 820.6,304.6 825.0,302.5 829.5,300.5 833.9,298.5 838.4,296.5 842.8,294.5 847.3,292.6 851.7,290.7 856.2,288.8 860.6,286.9 865.1,285.1 869.5,283.3 874.0,281.5 878.4,279.7 882.8,278.0 887.3,276.2 891.7,274.5 896.2,272.9 900.6,271.2 905.1,269.6 909.5,268.0 914.0,266.4 918.4,264.8 922.9,263.2 927.3,261.7 931.8,260.1 936.2,258.6 940.7,257.2 945.1,255.7 949.6,254.2 954.0,252.8 958.5,251.4 962.9,250.0 967.4,248.6 971.8,247.2 976.3,245.8 980.7,244.5 985.2,243.2 989.6,241.9 994.1,240.6 998.5,239.3 1003.0,238.0 1007.4,236.7 1011.9,235.5 1016.3,234.3 1020.8,233.0 1025.2,231.8 1029.7,230.6 1034.1,229.5 1038.6,228.3 1043.0,227.1 1047.5,226.0 1051.9,224.9 1056.4,223.7 1060.8,222.6 1065.3,221.5 1069.7,220.4 1074.2,219.4 1078.6,218.3 1083.1,217.2 1087.5,216.2 1092.0,215.2 1096.4,214.1 1100.9,213.1 1105.3,212.1 1109.8,211.1 1114.2,210.1 1118.7,209.1 1123.1,208.2 1127.6,207.2 1132.0,206.3 1136.5,205.3 1140.9,204.4 1145.4,203.5 1149.8,202.5 1154.2,201.6 1158.7,200.7 1163.1,199.8 1167.6,199.0 1172.0,198.1 1176.5,197.2 1180.9,196.3 1185.4,195.5 1189.8,194.6 1194.3,193.8 1198.7,193.0 1203.2,192.2 1207.6,191.3 1212.1,190.5 1216.5,189.7 1221.0,188.9 1225.4,188.1 1229.9,187.3 1234.3,186.6 1238.8,185.8 1243.2,185.0 1247.7,184.3 1252.1,183.5 1256.6,182.8 1261.0,182.0 1265.5,181.3 1269.9,180.6 1274.4,179.9 1278.8,179.1 1283.3,178.4 1287.7,177.7 1292.2,177.0 1296.6,176.3 1301.1,175.6 1305.5,175.0 1310.0,174.3 1314.4,173.6 1318.9,172.9 1323.3,172.3 1327.8,171.6 1332.2,171.0 1336.7,170.3 1341.1,169.7 1345.6,169.0 1350.0,168.4 1354.5,167.8 1358.9,167.2 1363.4,166.5 1367.8,165.9 1372.3,165.3 1376.7,164.7 1381.2,164.1 1385.6,163.5 1390.1,162.9 1394.5,162.3 1399.0,161.8 1403.4,161.2 1407.9,160.6 1412.3,160.0 1416.8,159.5 1421.2,158.9 1425.7,158.3 1430.1,157.8 1434.5,157.2 1439.0,156.7 1443.4,156.1 1447.9,155.6 1452.3,155.1 1456.8,154.5 1461.2,154.0 1465.7,153.5 1470.1,153.0 1474.6,152.4 1479.0,151.9 1483.5,151.4 1487.9,150.9 1492.4,150.4 1496.8,149.9 1501.3,149.4 1505.7,148.9 1510.2,148.4 1514.6,147.9 1519.1,147.4 1523.5,147.0 1528.0,146.5 1532.4,146.0 1536.9,145.5 1541.3,145.1 1545.8,144.6 1550.2,144.1 1554.7,143.7 1559.1,143.2 1563.6,142.8 1568.0,142.3 1572.5,141.9 1576.9,141.4 1581.4,141.0 1585.8,140.5 1590.3,140.1 1594.7,139.7 1599.2,139.2 1603.6,138.8 1608.1,138.4 1612.5,137.9 1617.0,137.5 1621.4,137.1 1625.9,136.7 1630.3,136.3 1634.8,135.9 1639.2,135.4 1643.7,135.0 1648.1,134.6 1652.6,134.2 1657.0,133.8 1661.5,133.4 1665.9,133.0 1670.4,132.7 1674.8,132.3 1679.3,131.9 1683.7,131.5 1688.2,131.1 1692.6,130.7 1697.1,130.3 1701.5,130.0"/>
<polyline stroke="#000000" points="365.5,1106.5 365.9,1103.9 366.3,1101.4 366.7,1098.8 367.1,1096.3 367.5,1093.7 367.9,1091.2 368.2,1088.7 368.6,1086.2 369.0,1083.7 369.4,1081.3 369.8,1078.8 370.2,1076.4 370.6,1073.9 371.0,1071.5 371.4,1069.1 371.8,1066.7 372.2,1064.3 372.6,1061.9 373.0,1059.5 373.3,1057.1 373.7,1054.8 374.1,1052.4 374.5,1050.1 374.9,1047.8 375.3,1045.4 375.7,1043.1 376.1,1040.8 376.5,1038.5 376.9,1036.3 377.3,1034.0 377.7,1031.7 378.1,1029.5 378.5,1027.2 378.8,1025.0 379.2,1022.8 379.6,1020.6 380.0,1018.4 380.4,1016.2 380.8,1014.0 382.2,1006.2 383.6,998.5 385.0,990.9 386.5,983.5 387.9,976.1 389.3,968.9 390.7,961.7 392.1,954.7 393.5,947.7 395.0,940.9 396.4,934.1 397.8,927.4 399.2,920.9 400.6,914.4 402.0,908.0 403.4,901.7 404.9,895.4 406.3,889.3 407.7,883.2 409.1,877.2 410.5,871.3 411.9,865.5 413.3,859.8 414.8,854.1 416.2,848.5 417.6,842.9 419.0,837.5 420.4,832.0 421.8,826.7 423.2,821.4 424.7,816.2 426.1,811.1 427.5,806.0 428.9,801.0 430.3,796.0 431.7,791.1 433.2,786.3 434.6,781.5 436.0,776.8 437.4,772.1 438.8,767.5 440.2,762.9 441.6,758.4 443.1,754.0 444.5,749.5 445.9,745.2 447.3,740.9 448.7,736.6 450.1,732.4 451.5,728.2 453.0,724.1 454.4,720.0 455.8,716.0 457.2,712.0 458.6,708.0 460.0,704.1 461.4,700.3 462.9,696.4 464.3,692.7 465.7,688.9 467.1,685.2 468.5,681.5 469.9,677.9 471.3,674.3 472.8,670.8 474.2,667.3 475.6,663.8 477.0,660.3 478.4,656.9 479.8,653.5 481.3,650.2 482.7,646.9 484.1,643.6 485.5,640.4 486.9,637.1 488.3,634.0 489.7,630.8 491.2,627.7 492.6,624.6 494.0,621.5 495.4,618.5 496.8,615.5 498.2,612.5 499.6,609.6 501.1,606.6 502.5,603.7 503.9,600.9 505.3,598.0 506.7,595.2 508.1,592.4 509.5,589.7 511.0,586.9 512.4,584.2 513.8,581.5 515.2,578.9 516.6,576.2 518.0,573.6 519.5,571.0 520.9,568.4 522.3,565.9 523.7,563.4 525.1,560.9 526.5,558.4 527.9,555.9 529.4,553.5 530.8,551.1 532.2,548.7 533.6,546.3 535.0,543.9 536.4,541.6 537.8,539.3 539.3,537.0 540.7,534.7 542.1,532.4 543.5,530.2 544.9,528.0 546.3,525.8 547.7,523.6 549.2,521.4 553.6,514.7 558.1,508.2 562.5,501.8 567.0,495.6 571.4,489.5 575.9,483.6 580.3,477.8 584.8,472.1 589.2,466.6 593.7,461.2 598.1,456.0 602.6,450.8 607.0,445.8 611.4,440.8 615.9,436.0 620.3,431.3 624.8,426.7 629.2,422.2 633.7,417.8 638.1,413.4 642.6,409.2 647.0,405.1 651.5,401.0 655.9,397.0 660.4,393.1 664.8,389.3 669.3,385.5 673.7,381.8 678.2,378.2 682.6,374.7 687.1,371.2 691.5,367.8 696.0,364.4 700.4,361.1 704.9,357.9 709.3,354.7 713.8,351.6 718.2,348.6 722.7,345.6 727.1,342.6 731.6,339.7 736.0,336.9 740.5,334.1 744.9,331.3 749.4,328.6 753.8,326.0 758.3,323.3 762.7,320.8 767.2,318.2 771.6,315.8 776.1,313.3 780.5,310.9 785.0,308.5 789.4,306.2 793.9,303.9 798.3,301.6 802.8,299.4 807.2,297.2 811.7,295.1 816.1,292.9 820.6,290.8 825.0,288.8 829.5,286.7 833.9,284.7 838.4,282.8 842.8,280.8 847.3,278.9 851.7,277.0 856.2,275.2 860.6,273.3 865.1,271.5 869.5,269.8 874.0,268.0 878.4,266.3 882.8,264.6 887.3,262.9 891.7,261.2 896.2,259.6 900.6,258.0 905.1,256.4 909.5,254.8 914.0,253.2 918.4,251.7 922.9,250.2 927.3,248.7 931.8,247.2 936.2,245.8 940.7,244.3 945.1,242.9 949.6,241.5 954.0,240.1 958.5,238.8 962.9,237.4 967.4,236.1 971.8,234.8 976.3,233.5 980.7,232.2 985.2,230.9 989.6,229.7 994.1,228.5 998.5,227.2 1003.0,226.0 1007.4,224.8 1011.9,223.7 1016.3,222.5 1020.8,221.4 1025.2,220.2 1029.7,219.1 1034.1,218.0 1038.6,216.9 1043.0,215.8 1047.5,214.7 1051.9,213.7 1056.4,212.6 1060.8,211.6 1065.3,210.6 1069.7,209.6 1074.2,208.6 1078.6,207.6 1083.1,206.6 1087.5,205.6 1092.0,204.7 1096.4,203.7 1100.9,202.8 1105.3,201.8 1109.8,200.9 1114.2,200.0 1118.7,199.1 1123.1,198.2 1127.6,197.4 1132.0,196.5 1136.5,195.6 1140.9,194.8 1145.4,193.9 1149.8,193.1 1154.2,192.3 1158.7,191.4 1163.1,190.6 1167.6,189.8 1172.0,189.0 1176.5,188.3 1180.9,187.5 1185.4,186.7 1189.8,186.0 1194.3,185.2 1198.7,184.5 1203.2,183.7 1207.6,183.0 1212.1,182.3 1216.5,181.5 1221.0,180.8 1225.4,180.1 1229.9,179.4 1234.3,178.7 1238.8,178.1 1243.2,177.4 1247.7,176.7 1252.1,176.0 1256.6,175.4 1261.0,174.7 1265.5,174.1 1269.9,173.4 1274.4,172.8 1278.8,172.2 1283.3,171.6 1287.7,170.9 1292.2,170.3 1296.6,169.7 1301.1,169.1 1305.5,168.5 1310.0,167.9 1314.4,167.4 1318.9,166.8 1323.3,166.2 1327.8,165.6 1332.2,165.1 1336.7,164.5 1341.1,164.0 1345.6,163.4 1350.0,162.9 1354.5,162.3 1358.9,161.8 1363.4,161.3 1367.8,160.7 1372.3,160.2 1376.7,159.7 1381.2,159.2 1385.6,158.7 1390.1,158.2 1394.5,157.7 1399.0,157.2 1403.4,156.7 1407.9,156.2 1412.3,155.7 1416.8,155.3 1421.2,154.8 1425.7,154.3 1430.1,153.8 1434.5,153.4 1439.0,152.9 1443.4,152.5 1447.9,152.0 1452.3,151.6 1456.8,151.1 1461.2,150.7 1465.7,150.3 1470.1,149.8 1474.6,149.4 1479.0,149.0 1483.5,148.5 1487.9,148.1 1492.4,147.7 1496.8,147.3 1501.3,146.9 1505.7,146.5 1510.2,146.1 1514.6,145.7 1519.1,145.3 1523.5,144.9 1528.0,144.5 1532.4,144.1 1536.9,143.7 1541.3,143.3 1545.8,143.0 1550.2,142.6 1554.7,142.2 1559.1,141.8 1563.6,141.5 1568.0,141.1 1572.5,140.7 1576.9,140.4 1581.4,140.0 1585.8,139.7 1590.3,139.3 1594.7,139.0 1599.2,138.6 1603.6,138.3 1608.1,137.9 1612.5,137.6 1617.0,137.3 1621.4,136.9 1625.9,136.6 1630.3,136.3 1634.8,136.0 1639.2,135.6 1643.7,135.3 1648.1,135.0 1652.6,134.7 1657.0,134.4 1661.5,134.1 1665.9,133.7 1670.4,133.4 1674.8,133.1 1679.3,132.8 1683.7,132.5 1688.2,132.2 1692.6,131.9 1697.1,131.6 1701.5,131.3"/>
</g>
<g shape-rendering="crispEdges">
<rect x="909.5" y="454.5" width="1168" height="603" fill="#fff" stroke="#000" stroke-width="3"/>
<path d="M972,482H997V483H998V508H997V509H972V508H971V483H972Z" fill="#000"/>
<rect x="915" y="568" width="139" height="3" fill="#ff0000"/>
<rect x="915" y="643" width="139" height="3" fill="#00ff00"/>
<rect x="915" y="717" width="139" height="3" fill="#0000ff"/>
<rect x="915" y="791" width="139" height="3" fill="#ff00ff"/>
<rect x="915" y="866" width="139" height="3" fill="#00ffff"/>
<rect x="915" y="941" width="139" height="2" fill="#ffff00"/>
<rect x="915" y="1015" width="139" height="3" fill="#000000"/>
</g>
<g filter="url(#bw)">
<g font-size="49.5">
<text x="221" y="259" text-anchor="end">2000</text>
<text x="221" y="689.7" text-anchor="end">1000</text>
<text x="221" y="1121.5" text-anchor="end">0</text>
<text x="366.0" y="1262" text-anchor="middle">0</text>
<text x="978.0" y="1262" text-anchor="middle">2</text>
<text x="1591.0" y="1262" text-anchor="middle">4</text>
</g>
<text x="1032.5" y="1355" font-size="60.8" text-anchor="middle">Ce (mg/L)</text>
<text transform="translate(85 619.4) rotate(-90)" font-size="60.5" text-anchor="middle">qe (mg/g)</text>
<g font-size="60.8">
<text x="1070" y="516">qe (mg/g)</text>
<text x="1070" y="591">langmuir (User) Fit of Sheet1 B"qe"</text>
<text x="1070" y="665">Freundlich (User) Fit of Sheet1 B"qe"</text>
<text x="1070" y="740">jovanovic (User) Fit of Sheet1 B"qe"</text>
<text x="1070" y="814">Temkin (User) Fit of Sheet1 B"qe"</text>
<text x="1070" y="888">Sips (User) Fit of Sheet1 B"qe"</text>
<text x="1070" y="963">Toth (User) Fit of Sheet1 B"qe"</text>
<text x="1070" y="1037">Khan (User) Fit of Sheet1 B"qe"</text>
</g>
</g>
</svg></body></html>
